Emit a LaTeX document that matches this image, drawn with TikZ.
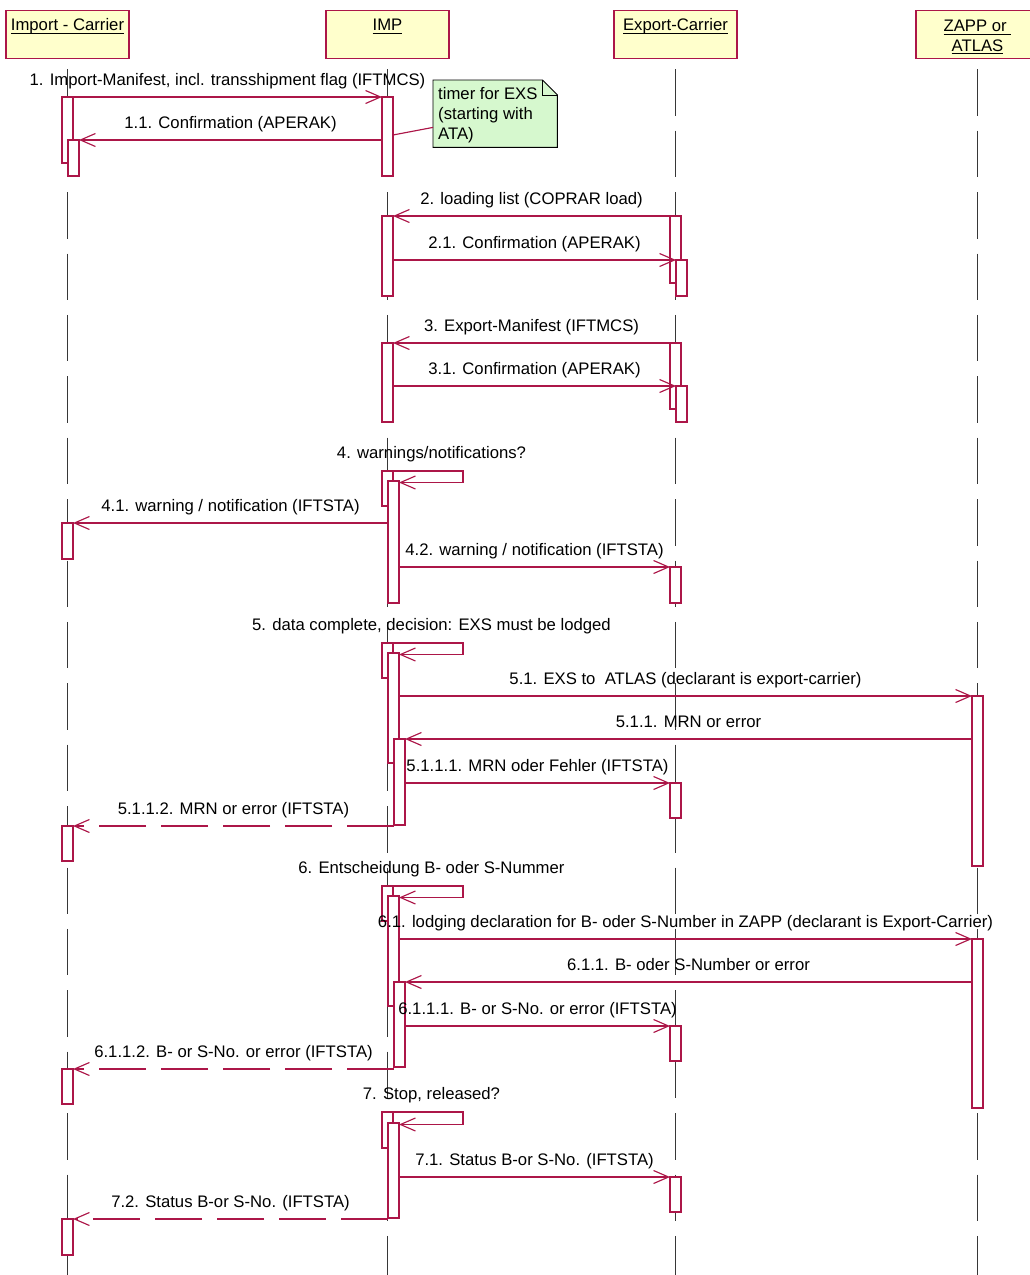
\documentclass[tikz,border=0pt]{standalone}
\usepackage{fontspec}
\setmainfont{Liberation Sans}
\usetikzlibrary{arrows.meta,calc,backgrounds}
\definecolor{umlred}{RGB}{172,22,72}
\definecolor{hdrfill}{RGB}{255,255,204}
\definecolor{notefill}{RGB}{214,248,206}
\definecolor{lifegray}{RGB}{55,55,55}
\newcommand\myul[1]{\setbox0=\hbox{#1}\rlap{\rule[-3.2pt]{\wd0}{0.9pt}}\box0}
\newcommand\act[4]{\node[actbox, minimum height={(#4-#3)*1pt}] (#1) at (#2,#3) {};}
\begin{document}
\begin{tikzpicture}[x=1pt,y=-1pt,
  font=\fontsize{16.7}{20}\selectfont,
  hdr/.style={draw=umlred, line width=1.3pt, fill=hdrfill, minimum width=123pt,
    inner xsep=0pt, inner ysep=0pt, text height=20pt, text depth=28pt, anchor=north},
  actbox/.style={draw=umlred, line width=1.15pt, fill=white, minimum width=11pt,
    inner sep=0pt, outer sep=0pt, anchor=north west},
  life/.style={draw=lifegray, line width=1.1pt, dash pattern=on 46.4pt off 15pt},
  msg/.style={draw=umlred, line width=1.15pt, -{Straight Barb[length=15pt,width=13pt]}},
  rmsg/.style={msg, dash pattern=on 47pt off 15pt},
  lbl/.style={anchor=base, yshift=12pt, pos=0.5, text=black, inner sep=0pt},
  slbl/.style={anchor=base, text=black, inner sep=0pt}]
\clip (0,0) rectangle (1030,1275);
% headers
\node[hdr] (hic) at (67.5,10) {\myul{Import - Carrier}};
\node[hdr] (himp) at (387.5,10) {\myul{IMP}};
\node[hdr] (hexp) at (675.5,10) {\myul{Export-Carrier}};
\node[hdr, text height=21pt, text depth=27pt] (hzapp) at (977.5,10)
  {\vtop{\baselineskip=19.5pt\hbox to 90pt{\hfil\myul{ZAPP or\ }\hfil}\hbox to 90pt{\hfil\myul{ATLAS}\hfil}}};
% lifelines
\draw[life] ($(hic.south)+(0,10)$) -- ($(hic.south)+(0,1217)$);
\draw[life] ($(himp.south)+(0,10)$) -- ($(himp.south)+(0,1217)$);
\draw[life] ($(hexp.south)+(0,10)$) -- ($(hexp.south)+(0,1217)$);
\draw[life] ($(hzapp.south)+(0,10)$) -- ($(hzapp.south)+(0,1217)$);
% activations: Import-Carrier
\act{ic1}{62}{97}{163}
\act{ic2}{68}{140}{176}
\act{ic3}{62}{523}{559}
\act{ic4}{62}{826}{861}
\act{ic5}{62}{1069}{1104}
\act{ic6}{62}{1219}{1255}
% IMP
\act{m1}{382}{97}{176}
\act{m2}{382}{216}{296}
\act{m3}{382}{343}{422}
\act{m4a}{382}{471}{506}
\act{m4b}{388}{481}{603}
\act{m5a}{382}{643}{678}
\act{m5b}{388}{653}{763}
\act{m5c}{394}{739}{825}
\act{m6a}{382}{886}{921}
\act{m6b}{388}{896}{1006}
\act{m6c}{394}{982}{1067}
\act{m7a}{382}{1112}{1148}
\act{m7b}{388}{1123}{1218}
% Export-Carrier
\act{e2a}{670}{216}{283}
\act{e2b}{676}{260}{296}
\act{e3a}{670}{343}{409}
\act{e3b}{676}{386}{422}
\act{e4}{670}{567}{603}
\act{e5}{670}{783}{818}
\act{e6}{670}{1026}{1061}
\act{e7}{670}{1177}{1212}
% ZAPP
\act{z5}{972}{696}{866}
\act{z6}{972}{939}{1108}
% note
\node[anchor=north west, inner xsep=5pt, inner ysep=0pt, text height=19pt, text depth=48pt] (note) at (433,80)
  {\vtop{\baselineskip=20pt\hbox to 114pt{timer for EXS\hfil}\hbox to 114pt{(starting with\hfil}\hbox to 114pt{ATA)\hfil}}};
\begin{scope}[on background layer]
\filldraw[fill=notefill, draw=black, line width=0.9pt] (note.north west) -- ($(note.north east)+(-15,0)$) -- ($(note.north east)+(0,15)$) -- (note.south east) -- (note.south west) -- cycle;
\draw[black, line width=0.9pt] ($(note.north east)+(-15,0)$) -- ($(note.north east)+(-15,15)$) -- ($(note.north east)+(0,15)$);
\end{scope}
\draw[umlred, line width=1.15pt] ($(note.south west)+(0,-20)$) -- ($(m1.north east)+(0,38)$);
% messages
\draw[msg] (ic1.north east) -- node[lbl]{1. Import-Manifest, incl. transshipment flag (IFTMCS)} (m1.north west);
\draw[msg] (m1.west |- ic2.north) -- node[lbl]{1.1. Confirmation (APERAK)} (ic2.north east);
\draw[msg] (e2a.north west) -- node[lbl]{2. loading list (COPRAR load)} (m2.north east);
\draw[msg] (m2.east |- e2b.north) -- node[lbl]{2.1. Confirmation (APERAK)} (e2b.north west);
\draw[msg] (e3a.north west) -- node[lbl]{3. Export-Manifest (IFTMCS)} (m3.north east);
\draw[msg] (m3.east |- e3b.north) -- node[lbl]{3.1. Confirmation (APERAK)} (e3b.north west);
% 4
\node[slbl] (l4) at ($(m4a.north)+(44,-13)$) {4. warnings/notifications?};
\draw[msg] (m4a.north east) -- ($(m4a.north east)+(70,0)$) -- ($(m4b.north east)+(64,1.5)$) -- ($(m4b.north east)+(0,1.5)$);
\draw[msg] (m4b.west |- ic3.north) -- node[lbl]{4.1. warning / notification (IFTSTA)} (ic3.north east);
\draw[msg] (m4b.east |- e4.north) -- node[lbl]{4.2. warning / notification (IFTSTA)} (e4.north west);
% 5
\node[slbl] (l5) at ($(m5a.north)+(44,-13)$) {5. data complete, decision: EXS must be lodged};
\draw[msg] (m5a.north east) -- ($(m5a.north east)+(70,0)$) -- ($(m5b.north east)+(64,1.5)$) -- ($(m5b.north east)+(0,1.5)$);
\draw[msg] (m5b.east |- z5.north) -- node[lbl]{5.1. EXS to\ \ ATLAS (declarant is export-carrier)} (z5.north west);
\draw[msg] (z5.west |- m5c.north) -- node[lbl]{5.1.1. MRN or error} (m5c.north east);
\draw[msg] (m5c.east |- e5.north) -- node[lbl]{5.1.1.1. MRN oder Fehler (IFTSTA)} (e5.north west);
\draw[rmsg] (m5c.west |- ic4.north) -- node[lbl]{5.1.1.2. MRN or error (IFTSTA)} (ic4.north east);
% 6
\node[slbl] (l6) at ($(m6a.north)+(44,-13)$) {6. Entscheidung B- oder S-Nummer};
\draw[msg] (m6a.north east) -- ($(m6a.north east)+(70,0)$) -- ($(m6b.north east)+(64,1.5)$) -- ($(m6b.north east)+(0,1.5)$);
\draw[msg] (m6b.east |- z6.north) -- node[lbl]{6.1. lodging declaration for B- oder S-Number in ZAPP (declarant is Export-Carrier)} (z6.north west);
\draw[msg] (z6.west |- m6c.north) -- node[lbl]{6.1.1. B- oder S-Number or error} (m6c.north east);
\draw[msg] (m6c.east |- e6.north) -- node[lbl]{6.1.1.1. B- or S-No. or error (IFTSTA)} (e6.north west);
\draw[rmsg] (m6c.west |- ic5.north) -- node[lbl]{6.1.1.2. B- or S-No. or error (IFTSTA)} (ic5.north east);
% 7
\node[slbl] (l7) at ($(m7a.north)+(44,-13)$) {7. Stop, released?};
\draw[msg] (m7a.north east) -- ($(m7a.north east)+(70,0)$) -- ($(m7b.north east)+(64,1.5)$) -- ($(m7b.north east)+(0,1.5)$);
\draw[msg] (m7b.east |- e7.north) -- node[lbl]{7.1. Status B-or S-No. (IFTSTA)} (e7.north west);
\draw[rmsg] (m7b.west |- ic6.north) -- node[lbl]{7.2. Status B-or S-No. (IFTSTA)} (ic6.north east);
\end{tikzpicture}
\end{document}
